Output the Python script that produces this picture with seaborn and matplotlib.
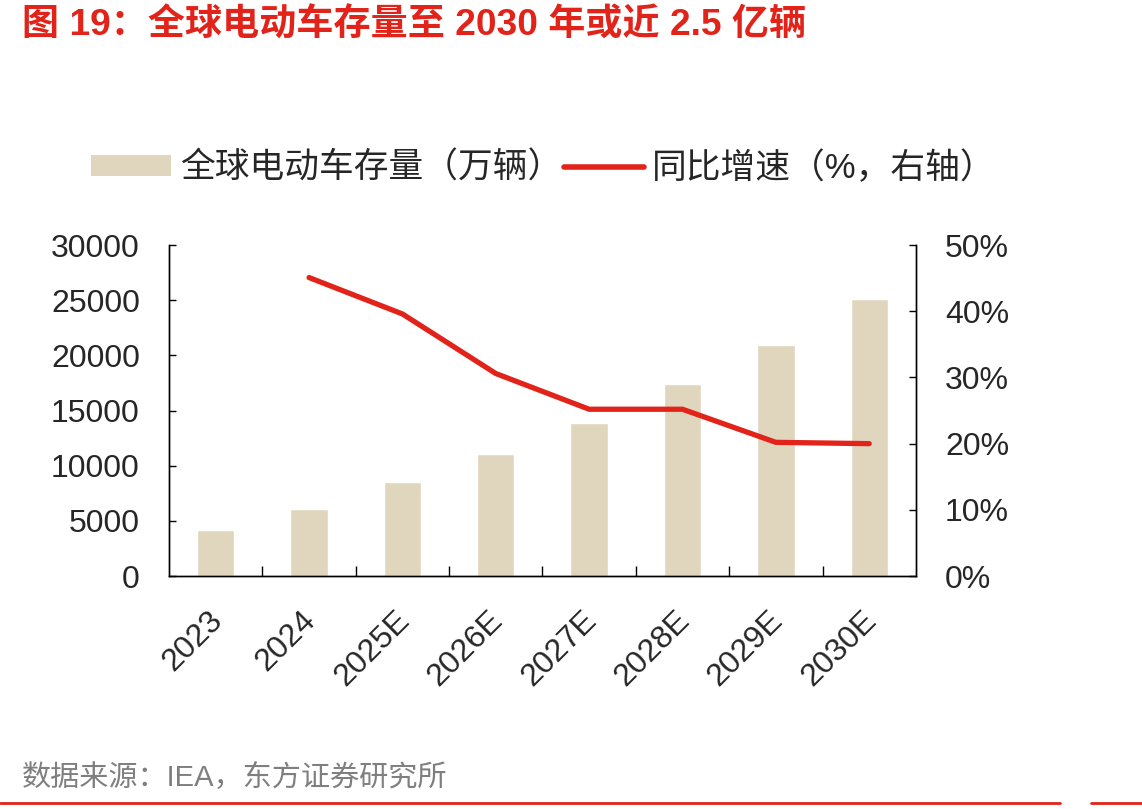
import matplotlib
matplotlib.use('Agg')
import numpy as np
import pandas as pd
import seaborn as sns
from matplotlib import pyplot as plt
from matplotlib import transforms as mtransforms
from matplotlib.patches import Patch
from matplotlib.lines import Line2D
from matplotlib.ticker import MultipleLocator, FixedLocator, FuncFormatter

years = ['2023', '2024', '2025E', '2026E', '2027E', '2028E', '2029E', '2030E']
stock = [4170, 6070, 8490, 11060, 13870, 17400, 20910, 25110]
growth = [np.nan, 45.1, 39.6, 30.6, 25.2, 25.2, 20.2, 20.0]

BAR_C = '#E0D6BE'
RED = '#E2231A'

sns.set_theme(style='white')
plt.rcParams['font.family'] = ['Liberation Sans', 'Noto Sans CJK SC', 'DejaVu Sans']

df = pd.DataFrame({'year': years, 'stock': stock, 'growth': growth, 'pos': range(len(years))})

fig = plt.figure(figsize=(11.42, 8.09), dpi=100)
ax = fig.add_axes([0.148, 0.288, 0.654, 0.409])

sns.barplot(data=df, x='year', y='stock', color=BAR_C, width=0.4, saturation=1, ax=ax)
ax.set_xlim(-0.5, len(years) - 0.5)
ax.set_ylim(0, 30000)
ax.yaxis.set_major_locator(MultipleLocator(5000))
ax.set_xlabel('')
ax.set_ylabel('')

ax2 = ax.twinx()
sns.lineplot(data=df.dropna(), x='pos', y='growth', color=RED, linewidth=3.8,
             solid_capstyle='round', ax=ax2)
ax2.set_ylim(0, 50)
ax2.yaxis.set_major_locator(MultipleLocator(10))
ax2.yaxis.set_major_formatter(FuncFormatter(lambda v, p: f'{v:.0f}%'))
ax2.set_xlim(-0.5, len(years) - 0.5)
ax2.set_ylabel('')
ax2.set_xlabel('')

for a in (ax, ax2):
    for s in a.spines.values():
        s.set_color('black')
        s.set_linewidth(1.0)
    a.spines['top'].set_visible(False)

ax.tick_params(axis='y', direction='in', length=5, width=1, labelsize=23, pad=21, left=True, color='black')
ax2.tick_params(axis='y', direction='in', length=5, width=1, labelsize=23, pad=21, right=True, color='black')

# category ticks between bars
ax.xaxis.set_major_locator(FixedLocator(range(len(years))))
ax.set_xticklabels(years)
ax.xaxis.set_minor_locator(FixedLocator([i + 0.5 for i in range(len(years) - 1)]))
ax.tick_params(axis='x', which='major', length=0, labelsize=23, pad=21)
ax.tick_params(axis='x', which='minor', direction='in', length=7, width=1, bottom=True, color='black')
ax2.tick_params(axis='x', which='both', bottom=False, labelbottom=False)
offset = mtransforms.ScaledTranslation(-0.08, 0.0, fig.dpi_scale_trans)
for lab in ax.get_xticklabels():
    lab.set_rotation(45)
    lab.set_ha('right')
    lab.set_va('top')
    lab.set_rotation_mode('anchor')
    lab.set_transform(lab.get_transform() + offset)

handles = [Patch(facecolor=BAR_C, edgecolor='none'),
           Line2D([0], [0], color=RED, linewidth=4)]
labels = ['全球电动车存量（万辆）', '同比增速（%，右轴）']
fig.legend(handles, labels, loc='center', bbox_to_anchor=(0.476, 0.792), ncol=2,
           frameon=False, fontsize=25, handlelength=2.3, handleheight=0.55,
           columnspacing=0.05, handletextpad=0.25)

fig.text(0.019, 0.968, '图 19：全球电动车存量至 2030 年或近 2.5 亿辆', color=RED,
         fontsize=26.7, fontweight='bold', va='center', ha='left')
fig.text(0.019, 0.038, '数据来源：IEA，东方证券研究所', color='#7F7F7F',
         fontsize=21, va='center', ha='left')
fig.add_artist(Line2D([0, 0.928], [0.007, 0.007], color=RED, linewidth=2, transform=fig.transFigure))
fig.add_artist(Line2D([0.955, 1.0], [0.007, 0.007], color=RED, linewidth=2, transform=fig.transFigure))

fig.savefig('out.png', dpi=100)
